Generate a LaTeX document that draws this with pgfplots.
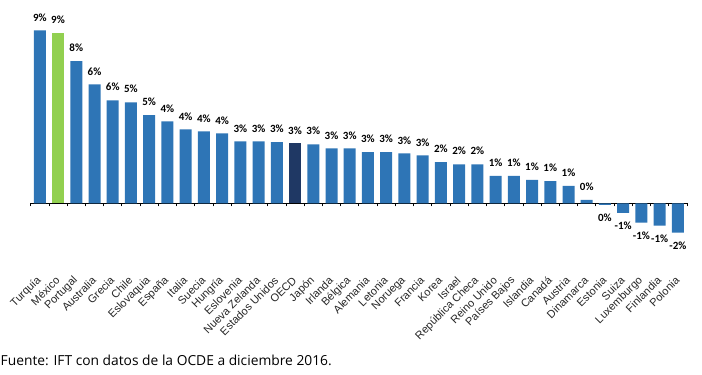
\documentclass[border=0pt]{standalone}
\usepackage{pgfplots}
\pgfplotsset{compat=1.18}
\usepackage{fontspec}
\setmainfont{Carlito}
\newfontfamily\arial{Liberation Sans}
\newfontfamily\opensans{Open Sans}
\definecolor{barblue}{RGB}{46,117,182}
\definecolor{bargreen}{RGB}{146,208,80}
\definecolor{barnavy}{RGB}{31,56,100}
\begin{document}
\begin{tikzpicture}
\useasboundingbox (0,0) rectangle (702pt,375pt);
\begin{axis}[
 at={(30.7pt,105.1pt)}, anchor=south west,
 scale only axis, width=656.3pt, height=244.2pt,
 xmin=-0.5, xmax=35.5, ymin=-3.6, ymax=9.6,
 axis x line=middle, axis y line=none,
 x axis line style={-, black, line width=0.9pt},
 xtick={0,...,35},
 xticklabels={Turquía,México,Portugal,Australia,Grecia,Chile,Eslovaquia,España,Italia,Suecia,Hungría,Eslovenia,Nueva Zelanda,Estados Unidos,OECD,Japón,Irlanda,Bélgica,Alemania,Letonia,Noruega,Francia,Korea,Israel,República Checa,Reino Unido,Países Bajos,Islandia,Canadá,Austria,Dinamarca,Estonia,Suiza,Luxemburgo,Finlandia,Polonia},
 major tick length=0pt,
 minor xtick={-0.5,0.5,...,35.5},
 minor tick length=3pt,
 tick align=outside,
 minor x tick style={black, line width=0.8pt},
 xticklabel style={font=\arial\fontsize{11}{13}\selectfont, text=black!85, yshift=-73pt, xshift=2pt, rotate=45, anchor=east},
 ybar, bar width=12pt, bar shift=0pt,
 point meta=explicit symbolic,
 nodes near coords,
 every node near coord/.append style={font=\bfseries\fontsize{11}{12}\selectfont, inner ysep=9pt, text=black},
 clip=false,
]
\addplot[fill=barblue, draw=none] coordinates {
(0,9.35) [9\%]
(2,7.68) [8\%]
(3,6.43) [6\%]
(4,5.57) [6\%]
(5,5.46) [5\%]
(6,4.76) [5\%]
(7,4.43) [4\%]
(8,4.00) [4\%]
(9,3.89) [4\%]
(10,3.78) [4\%]
(11,3.35) [3\%]
(12,3.35) [3\%]
(13,3.30) [3\%]
(15,3.19) [3\%]
(16,2.97) [3\%]
(17,2.97) [3\%]
(18,2.76) [3\%]
(19,2.76) [3\%]
(20,2.70) [3\%]
(21,2.59) [3\%]
(22,2.22) [2\%]
(23,2.11) [2\%]
(24,2.11) [2\%]
(25,1.48) [1\%]
(26,1.48) [1\%]
(27,1.26) [1\%]
(28,1.20) [1\%]
(29,0.94) [1\%]
(30,0.18) [0\%]
};
\addplot[fill=barblue, draw=none, nodes near coords align={below}] coordinates {
(31,-0.08) [0\%]
(32,-0.52) [-1\%]
(33,-1.05) [-1\%]
(34,-1.21) [-1\%]
(35,-1.59) [-2\%]
};
\addplot[fill=bargreen, draw=none] coordinates {(1,9.19) [9\%]};
\addplot[fill=barnavy, draw=none] coordinates {(14,3.24) [3\%]};
\end{axis}
\node[anchor=base west, inner sep=0pt, font=\opensans\fontsize{13.8}{16}\selectfont] at (0.5pt,9pt) {Fuente: IFT con datos de la OCDE a diciembre 2016.};
\end{tikzpicture}
\end{document}
